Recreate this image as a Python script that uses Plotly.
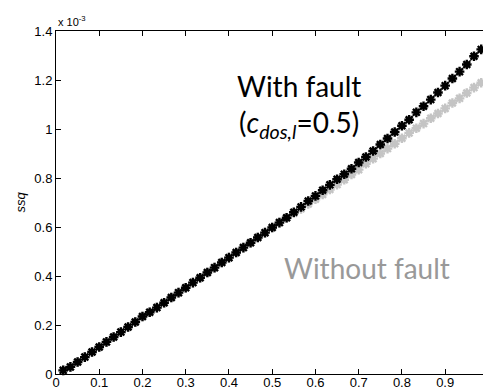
import plotly.graph_objects as go

# x positions (fraction), k/60 for k = 1..59
x_vals = [k / 60 for k in range(1, 60)]

# ssq values (x 10^-3)
with_fault = [0.015, 0.029, 0.049, 0.069, 0.090, 0.110, 0.131, 0.151, 0.171, 0.192,
              0.212, 0.235, 0.252, 0.271, 0.291, 0.312, 0.332, 0.352, 0.373, 0.393,
              0.414, 0.434, 0.455, 0.475, 0.496, 0.516, 0.536, 0.557, 0.577, 0.598,
              0.618, 0.638, 0.660, 0.682, 0.706, 0.727, 0.750, 0.772, 0.795, 0.815,
              0.838, 0.863, 0.886, 0.910, 0.937, 0.961, 0.988, 1.013, 1.038, 1.068,
              1.093, 1.120, 1.149, 1.177, 1.206, 1.234, 1.263, 1.297, 1.325]

without_fault = [0.015, 0.029, 0.049, 0.069, 0.090, 0.110, 0.131, 0.151, 0.171, 0.192,
                 0.212, 0.235, 0.252, 0.271, 0.291, 0.312, 0.332, 0.352, 0.373, 0.393,
                 0.414, 0.434, 0.455, 0.475, 0.496, 0.516, 0.536, 0.557, 0.577, 0.598,
                 0.618, 0.637, 0.656, 0.674, 0.694, 0.713, 0.733, 0.753, 0.773, 0.793,
                 0.814, 0.834, 0.858, 0.879, 0.900, 0.920, 0.940, 0.962, 0.984, 1.003,
                 1.022, 1.044, 1.063, 1.084, 1.106, 1.125, 1.147, 1.169, 1.189]

x_ticks = [0, 0.1, 0.2, 0.3, 0.4, 0.5, 0.6, 0.7, 0.8, 0.9]
x_tick_labels = ["0", "0.1", "0.2", "0.3", "0.4", "0.5", "0.6", "0.7", "0.8", "0.9"]
y_ticks = [0, 0.2, 0.4, 0.6, 0.8, 1.0, 1.2, 1.4]
y_tick_labels = ["0", "0.2", "0.4", "0.6", "0.8", "1", "1.2", "1.4"]

fig = go.Figure()
fig.add_trace(go.Scatter(
    x=x_vals, y=without_fault, mode="lines+markers",
    line=dict(color="#c4c4c4", width=1),
    marker=dict(symbol="asterisk", size=8, color="#c4c4c4",
                line=dict(color="#c4c4c4", width=2.4)),
    showlegend=False, cliponaxis=False))
fig.add_trace(go.Scatter(
    x=x_vals, y=with_fault, mode="lines+markers",
    line=dict(color="#000000", width=1),
    marker=dict(symbol="asterisk", size=8, color="#000000",
                line=dict(color="#000000", width=2.4)),
    showlegend=False, cliponaxis=False))

tick_font = dict(family="Liberation Sans, Arial, sans-serif", size=13, color="black")

fig.update_xaxes(range=[0, 0.9875], tickvals=x_ticks, ticktext=x_tick_labels,
                 ticks="inside", ticklen=5, tickcolor="black", tickwidth=1,
                 showline=True, linecolor="black", linewidth=1, mirror="ticks",
                 showgrid=False, zeroline=False, tickfont=tick_font, automargin=False,
                 ticklabelstandoff=-4)
fig.update_yaxes(range=[0, 1.4], tickvals=y_ticks, ticktext=y_tick_labels,
                 ticks="inside", ticklen=5, tickcolor="black", tickwidth=1,
                 showline=True, linecolor="black", linewidth=1, mirror=False,
                 showgrid=False, zeroline=False, tickfont=tick_font, automargin=False)

text_font = "Lato, Open Sans, sans-serif"
fig.add_annotation(x=0.563, y=1.174, xref="x", yref="y", showarrow=False,
                   text="With fault", font=dict(family=text_font, size=28, color="black"),
                   xanchor="center", yanchor="middle")
fig.add_annotation(x=0.563, y=1.02, xref="x", yref="y", showarrow=False,
                   text="(<i>c</i><sub><i>dos,l</i></sub>=0.5)",
                   font=dict(family=text_font, size=28, color="black"),
                   xanchor="center", yanchor="middle")
fig.add_annotation(x=0.719, y=0.431, xref="x", yref="y", showarrow=False,
                   text="Without fault", font=dict(family=text_font, size=28, color="#999999"),
                   xanchor="center", yanchor="middle")
fig.add_annotation(x=0, y=1, xref="paper", yref="paper", showarrow=False,
                   text="x 10<sup>-3</sup>",
                   font=dict(family="Liberation Sans, Arial, sans-serif", size=11, color="black"),
                   xanchor="left", yanchor="bottom", yshift=1)

PLOT_W = 483 - 56
fig.add_annotation(x=(20 - 56) / PLOT_W, y=0.5, xref="paper", yref="paper", showarrow=False,
                   text="<i>ssq</i>", textangle=-90,
                   font=dict(family="Liberation Sans, Arial, sans-serif", size=13, color="black"),
                   xanchor="center", yanchor="middle")

fig.update_layout(width=483, height=390, margin=dict(l=56, r=0, t=31, b=16),
                  plot_bgcolor="white", paper_bgcolor="white")

fig.write_html("out.html", config={"displayModeBar": False},
               post_script="document.body.style.margin='0';document.body.style.overflow='hidden';")
